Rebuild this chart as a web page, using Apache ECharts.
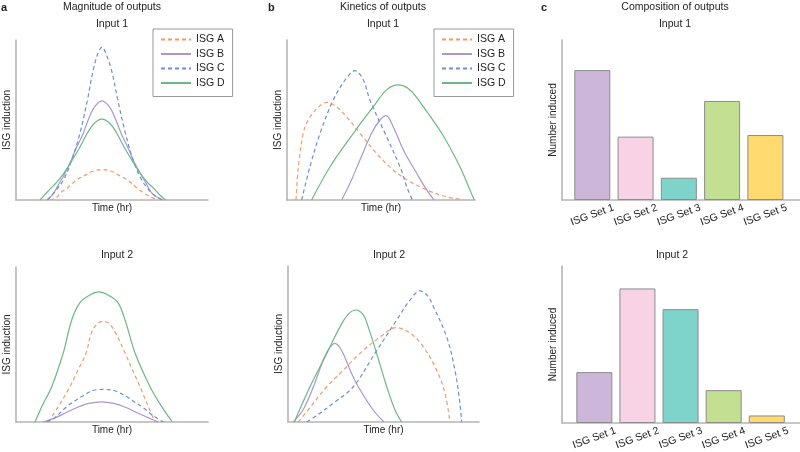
<!DOCTYPE html>
<html><head><meta charset="utf-8">
<script src="https://cdn.jsdelivr.net/npm/echarts@6/dist/echarts.min.js"></script>
<style>html,body{margin:0;padding:0;background:#fff}#c{width:800px;height:452px}</style>
</head><body><div id="c"></div>
<script>
const seriesNames = ['ISG A', 'ISG B', 'ISG C', 'ISG D'];
const setNames = ['ISG Set 1', 'ISG Set 2', 'ISG Set 3', 'ISG Set 4', 'ISG Set 5'];

// Panel a: Magnitude of outputs, Input 1  ([time, induction])
const magIn1A = [[17.7,0],[21,1.5],[23.1,4.4],[26.4,7.3],[31.6,12.5],[36.8,16],[40,18],[44.8,19],[49.6,18],[52.8,16],[58,12.5],[63.2,7.3],[66.5,4.4],[70,2],[73.4,0]];
const magIn1B = [[16.3,0],[19.4,4],[22.8,11],[24.8,15],[28.8,25],[30.8,31],[34.8,41],[37.6,50],[40.8,58],[44.8,62],[48.8,58],[52,50],[55,41],[59,31],[61,25],[65.5,15],[67.5,11],[71,4],[76.5,0]];
const magIn1C = [[16.3,0],[19.4,4],[24.7,12.5],[29,25],[33.3,41.7],[37.2,62.5],[40,80],[42.5,91],[44.8,95.6],[47,91],[50,80],[53,62.5],[57,41.7],[61,25],[65.5,12.5],[71,4],[76,0]];
const magIn1D = [[12.5,0],[14.8,3],[17.8,7],[20.8,10.5],[24.8,16.5],[28.8,24],[32.8,32],[37.1,41.7],[40.8,48],[44.8,50.6],[48.8,48],[52.5,41.7],[56.8,32],[60.8,24],[64.8,16.5],[68.8,10.5],[72,7],[75,3],[78,0]];

// Panel a: Magnitude of outputs, Input 2
const magIn2A = [[16.8,0],[22,9.9],[28.1,22.8],[32.5,34],[36.5,44.5],[39.4,58],[42.5,63.5],[45.5,65],[48.5,63.5],[51.6,58],[56.8,44.5],[60.5,34],[64.6,22.8],[68.9,9.9],[72.4,0]];
const magIn2B = [[14.2,0],[20,2.5],[26,6],[32,9.5],[38,12],[44.6,13],[51,12],[57,9.5],[63,6],[68.5,3],[74.1,0]];
const magIn2C = [[16,0],[20,2.5],[26.4,9.9],[30.5,13.5],[35,17],[40,20.3],[45.5,21],[51,20.3],[56.8,17],[61,13.5],[65.5,9.9],[71,4.5],[76.7,0]];
const magIn2D = [[9.9,0],[13.4,9.9],[18.6,22.8],[24.6,44.5],[29,65.8],[33.3,77],[38.5,82],[43.2,84],[47.9,82],[53.1,77],[56.8,65.8],[62,44.5],[69.8,22.8],[75.9,9.9],[81.4,0]];

// Panel b: Kinetics of outputs, Input 1
const kinIn1A = [[4.8,0],[6,20],[8.7,42],[11.3,50],[15.8,57],[21.1,61],[26,58.5],[31.7,52],[38.8,41.7],[47.7,29],[56.5,18.8],[65.4,11.5],[74.3,6.3],[83.2,2.5],[93.8,0]];
const kinIn1B = [[29.1,0],[33.5,10.4],[38.8,25],[45,41.7],[49.5,50],[52.7,52.7],[56.5,45.8],[61.9,31.3],[69,16.7],[74.3,6.3],[78.2,0]];
const kinIn1C = [[7.8,0],[12.2,20.8],[17.6,41.7],[24.6,62.5],[30.9,75],[36.2,80.8],[40.6,75],[44.1,62.5],[52.1,41.7],[60.1,20.8],[63.7,8.3],[66.7,0]];
const kinIn1D = [[13.1,0],[22.9,20.8],[35.3,41.7],[45.9,58.3],[53,68.8],[58.9,71.9],[65.4,68.8],[72.5,58.3],[82.3,41.7],[92,20.8],[97.3,6.3],[99.6,0]];

// Panel b: Kinetics of outputs, Input 2
const kinIn2A = [[5.4,0],[12,10],[20.3,22.6],[29,33.3],[37.7,44],[48.2,54.5],[56.9,60.5],[64,57],[70.8,48.3],[77.8,33.3],[82.2,18.4],[84.8,0]];
const kinIn2B = [[2.8,0],[8,8],[13.3,22.6],[18.5,39.7],[21.5,47],[24.6,50.4],[28,46],[32.5,33.3],[36.8,22.6],[44.6,7.7],[50.3,0]];
const kinIn2C = [[9.8,0],[16,5],[23.7,12],[34.2,22.6],[45.5,44],[56.9,65.4],[63.9,78.2],[69.1,84],[73,81],[76.1,74],[83.1,54.5],[87.4,33.3],[90,12],[90.9,0]];
const kinIn2D = [[3.3,0],[11.5,22.6],[20.3,44],[27.2,61],[31.5,69],[35.6,71.8],[39.5,68.5],[42,61],[46.4,44],[51.7,22.6],[56,7.7],[59.5,0]];

// Panel c: Composition of outputs (number induced per set)
const compIn1 = [81.2, 39.6, 13.9, 61.9, 40.6];
const compIn2 = [32.4, 85.7, 72.5, 20.9, 4.8];

const lineColors = ['#F49A66', '#A996D4', '#6B8ED6', '#6DB882'];
const lineDash = [[4, 3], 'solid', [4, 3], 'solid'];
const barColors = ['#CCB7DB', '#F7D3E5', '#7ED3CA', '#C3DF92', '#FFDB6F'];

const axisColor = '#b5b5b5';
const textColor = '#222';
const font = 'Liberation Sans, Arial, sans-serif';

function lineX(gi) {
  return { gridIndex: gi, type: 'value', min: 0, max: 100,
    axisLine: { show: true, lineStyle: { color: axisColor, width: 1.6 } },
    axisTick: { show: false }, axisLabel: { show: false }, splitLine: { show: false },
    name: 'Time (hr)', nameLocation: 'middle', nameGap: 3,
    nameTextStyle: { fontSize: 10, color: textColor, fontFamily: font } };
}
function yAx(gi, name) {
  return { gridIndex: gi, type: 'value', min: 0, max: 100,
    axisLine: { show: true, lineStyle: { color: axisColor, width: 1.6 } },
    axisTick: { show: false }, axisLabel: { show: false }, splitLine: { show: false },
    name: name, nameLocation: 'middle', nameGap: 4,
    nameTextStyle: { fontSize: 10, color: textColor, fontFamily: font } };
}
function barX(gi, mn, mx) {
  return { gridIndex: gi, type: 'value', min: mn, max: mx,
    axisLine: { show: true, lineStyle: { color: axisColor, width: 1.6 } },
    axisTick: { show: false }, splitLine: { show: false },
    axisLabel: { customValues: [1, 2, 3, 4, 5], formatter: v => setNames[v - 1],
      rotate: 20, align: 'center', verticalAlign: 'middle', margin: 15,
      fontSize: 10.5, color: textColor, fontFamily: font } };
}

const lineSets = [
  [0, [magIn1A, magIn1B, magIn1C, magIn1D]],
  [3, [magIn2A, magIn2B, magIn2C, magIn2D]],
  [1, [kinIn1A, kinIn1B, kinIn1C, kinIn1D]],
  [4, [kinIn2A, kinIn2B, kinIn2C, kinIn2D]]
];
const series = [];
lineSets.forEach(([gi, arrs]) => {
  arrs.forEach((d, k) => {
    series.push({ type: 'line', name: seriesNames[k], xAxisIndex: gi, yAxisIndex: gi,
      data: d, smooth: 0.35, symbol: 'none', silent: true,
      lineStyle: { color: lineColors[k], width: 1.2, type: lineDash[k] },
      itemStyle: { color: lineColors[k] } });
  });
});
[[2, compIn1], [5, compIn2]].forEach(([gi, vals]) => {
  series.push({ type: 'bar', xAxisIndex: gi, yAxisIndex: gi, barWidth: 36, silent: true,
    data: vals.map((v, i) => ({ value: [i + 1, v], itemStyle: { color: barColors[i] } })),
    itemStyle: { borderColor: '#8c8c8c', borderWidth: 1 } });
});

function ttl(text, x, y, size, bold, align) {
  return { text: text, left: x, top: y, padding: 0, textAlign: align || 'center',
    textStyle: { fontSize: size, fontWeight: bold ? 'bold' : 'normal', color: textColor, fontFamily: font } };
}
function legend(x) {
  return { show: true, data: seriesNames, orient: 'vertical', left: x, top: 29,
    padding: [5, 8, 8, 7], itemWidth: 30, itemHeight: 12, itemGap: 3.5,
    itemStyle: { opacity: 0, borderWidth: 0, color: 'rgba(0,0,0,0)', borderColor: 'rgba(0,0,0,0)' },
    borderColor: '#999', borderWidth: 1, selectedMode: false,
    textStyle: { fontSize: 10.5, color: textColor, fontFamily: font } };
}

const chart = echarts.init(document.getElementById('c'), null, { renderer: 'canvas' });
chart.setOption({
  animation: false,
  backgroundColor: '#fff',
  title: [
    ttl('a', 1, 2, 11, true, 'left'), ttl('b', 268, 2, 11, true, 'left'), ttl('c', 541, 2, 11, true, 'left'),
    ttl('Magnitude of outputs', 112, 2, 10.5), ttl('Kinetics of outputs', 383, 2, 10.5), ttl('Composition of outputs', 675, 2, 10.5),
    ttl('Input 1', 112, 19, 10.5), ttl('Input 1', 383, 19, 10.5), ttl('Input 1', 675, 19, 10.5),
    ttl('Input 2', 117, 250, 10.5), ttl('Input 2', 389, 250, 10.5), ttl('Input 2', 672, 250, 10.5)
  ],
  legend: [legend(153), legend(434)],
  grid: [
    { left: 16, top: 40, width: 192, height: 160 },
    { left: 287, top: 40, width: 188, height: 160 },
    { left: 562, top: 40, width: 238, height: 160 },
    { left: 16, top: 267, width: 192, height: 155 },
    { left: 288, top: 266, width: 191, height: 156 },
    { left: 562, top: 266, width: 238, height: 157 }
  ],
  xAxis: [lineX(0), lineX(1), barX(2, 0.3, 5.8), lineX(3), lineX(4), barX(5, 0.25, 5.77)],
  yAxis: [yAx(0, 'ISG induction'), yAx(1, 'ISG induction'), yAx(2, 'Number induced'),
          yAx(3, 'ISG induction'), yAx(4, 'ISG induction'), yAx(5, 'Number induced')],
  series: series
});
</script>
</body></html>
